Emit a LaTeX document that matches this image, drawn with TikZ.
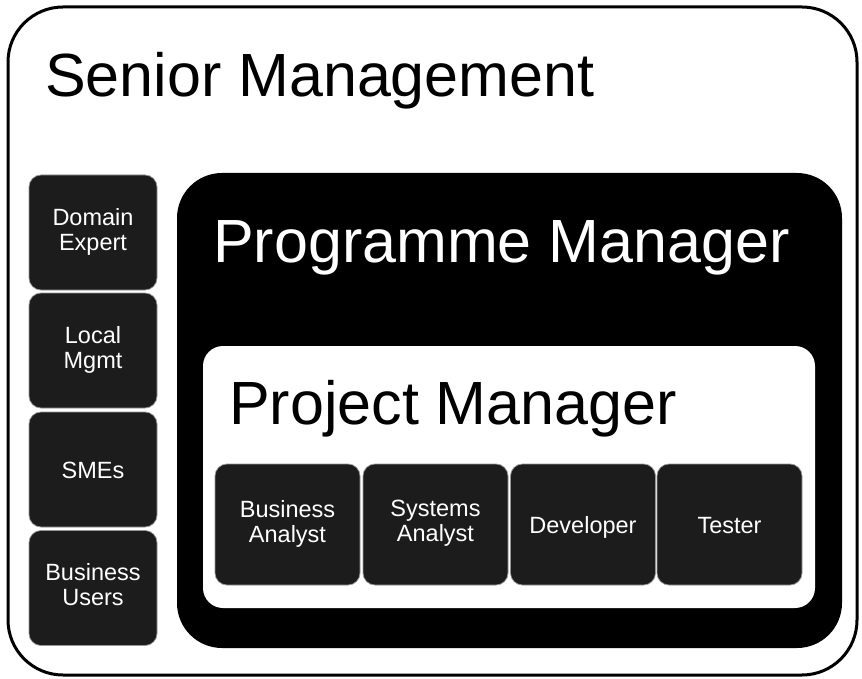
\documentclass[tikz,border=0pt]{standalone}
\usepackage{fontspec}
\setmainfont{Liberation Sans}
\definecolor{boxfill}{RGB}{28,28,28}
\definecolor{boxedge}{RGB}{150,150,150}
\newcommand\topstrut{\rule{0pt}{24pt}}
\newcommand\botstrut{\rule[-7pt]{0pt}{7pt}}
\begin{document}
\begin{tikzpicture}[x=1pt,y=-1pt,
  bigtext/.style={font=\fontsize{61}{66}\selectfont, anchor=base west, inner sep=0pt},
  rolebox/.style={rectangle, rounded corners=12pt, fill=boxfill, draw=boxedge, line width=0.7pt,
    inner sep=0pt, text=white, align=center, font=\fontsize{23.5}{25}\selectfont,
    execute at begin node=\topstrut, execute at end node=\botstrut},
  rowbox/.style={rolebox, minimum width=145pt, minimum height=121pt},
  colbox/.style={rolebox, minimum width=128pt, minimum height=115pt}]
\useasboundingbox (0,0) rectangle (862,679);
\fill[white] (0,0) rectangle (862,679);
% outer frame
\draw[line width=3pt, rounded corners=55pt] (8,7) rectangle (857,675);
\node[bigtext] (senior) at (45,97) {Senior Management};
% programme manager
\fill[black, rounded corners=45pt] (177,173) rectangle (842,648);
\node[bigtext, text=white] (programme) at (213,262) {Programme Manager};
% project manager
\fill[white, rounded corners=20pt] (203,346) rectangle (815,608);
\node[bigtext] (project) at (229,424) {Project Manager};
% row boxes
\node[rowbox] (ba) at (287.5,524.5) {Business\\Analyst};
\node[rowbox] (sa) at (435.5,524.5) {Systems\\Analyst};
\node[rowbox] (dev) at (583,524.5) {Developer};
\node[rowbox] (tester) at (729.5,524.5) {Tester};
% column boxes
\node[colbox] (domain) at (93,232.5) {Domain\\Expert};
\node[colbox] (local) at (93,350.5) {Local\\Mgmt};
\node[colbox] (smes) at (93,469.5) {SMEs};
\node[colbox] (users) at (93,588) {Business\\Users};
\end{tikzpicture}
\end{document}
